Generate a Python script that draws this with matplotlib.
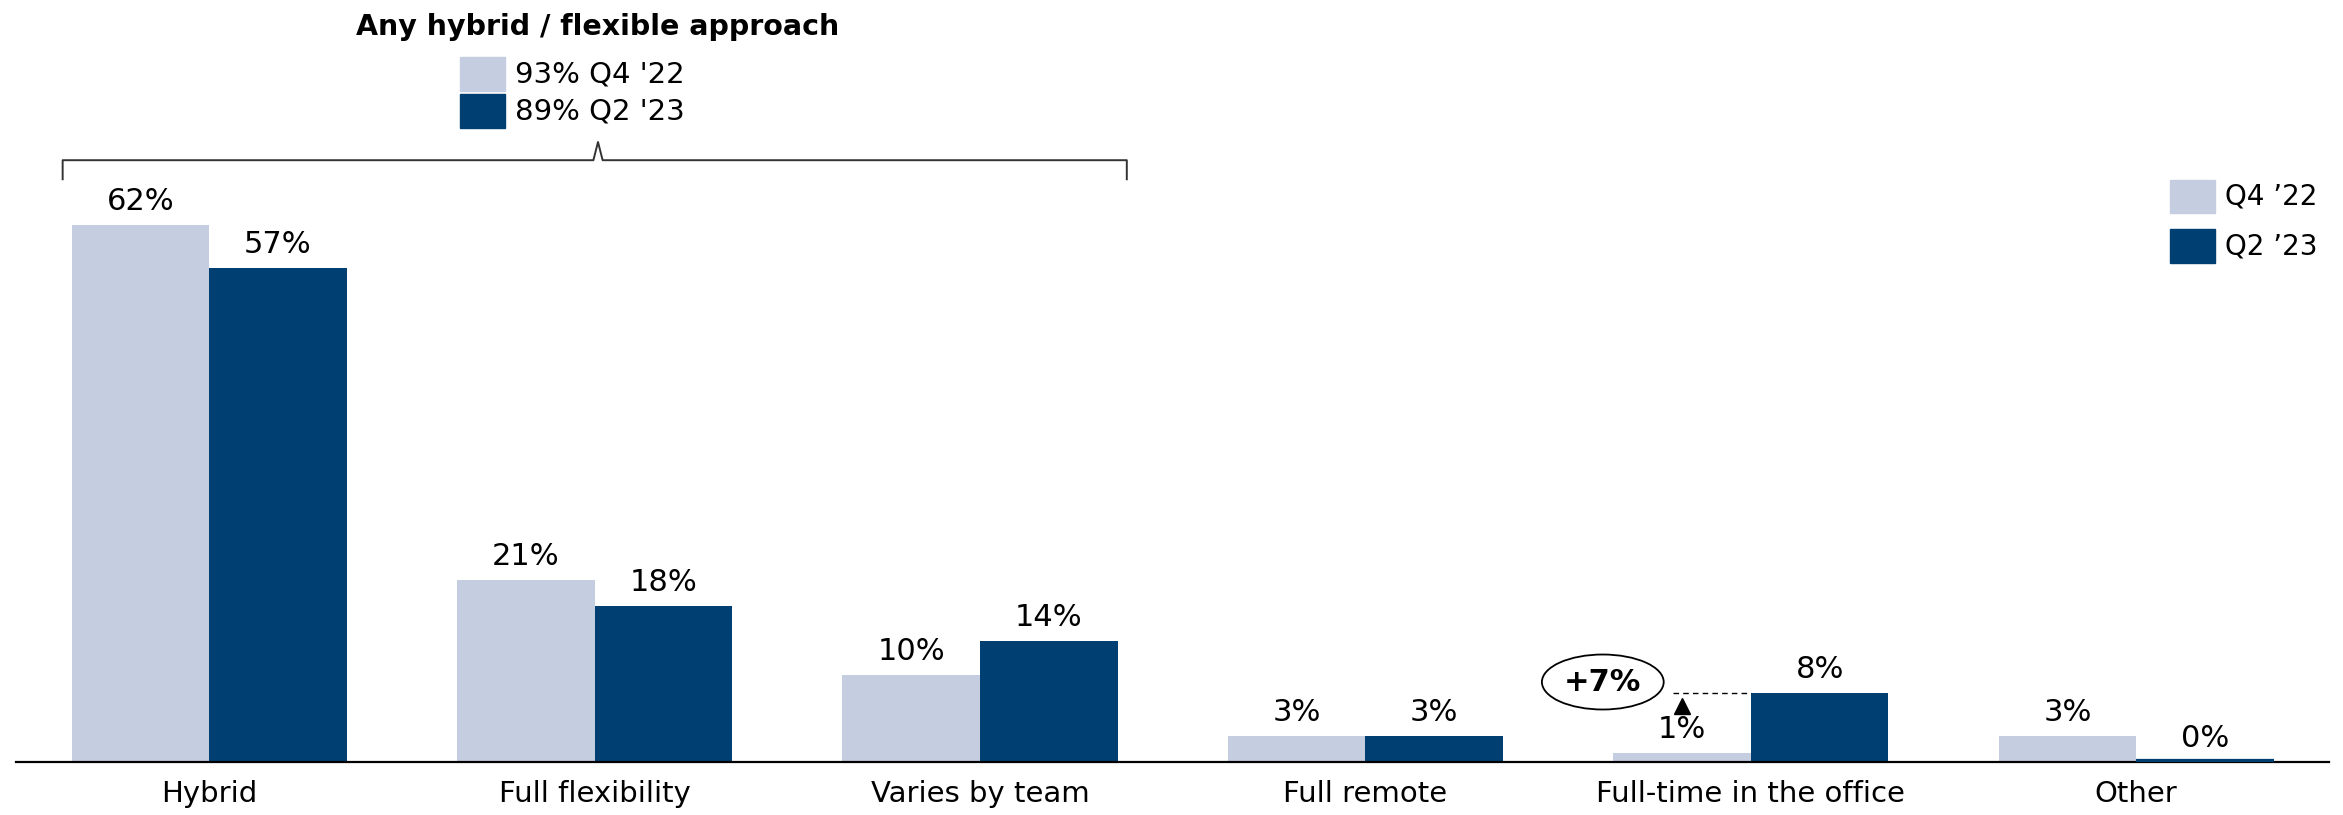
import matplotlib
matplotlib.use("Agg")
import matplotlib.pyplot as plt
from matplotlib.patches import Ellipse, Rectangle
import numpy as np

categories = ["Hybrid", "Full flexibility", "Varies by team", "Full remote",
              "Full-time in the office", "Other"]
q4_22 = [62, 21, 10, 3, 1, 3]
q2_23 = [57, 18, 14, 3, 8, 0]
series_names = ["Q4 \u201922", "Q2 \u201923"]
hybrid_totals = ["93% Q4 '22", "89% Q2 '23"]
hybrid_title = "Any hybrid / flexible approach"
change_label = "+7%"

LIGHT = "#C4CEE0"
DARK = "#003F71"

plt.rcParams["font.family"] = ["DejaVu Sans"]

fig = plt.figure(figsize=(23.43, 8.15), dpi=100)
ax = fig.add_axes([0.007, 0.065, 0.987, 0.935])

x = np.arange(len(categories))
w = 0.357
for xs, vals, col in ((x - w / 2, q4_22, LIGHT), (x + w / 2, q2_23, DARK)):
    ax.bar(xs, vals, w, color=col)
    for xi, v in zip(xs, vals):
        if v == 0:
            # zero bar still shows as a thin strip on the axis
            ax.plot([xi - w / 2, xi + w / 2], [0, 0], color=col, lw=4.5,
                    solid_capstyle="butt", zorder=3)
        ax.annotate(f"{v}%", (xi, v), xytext=(0, 17), textcoords="offset points",
                    ha="center", va="center", fontsize=22)

ax.set_xlim(-0.5, 5.5)
ax.set_ylim(0, 88)
ax.set_xticks(x)
ax.set_xticklabels(categories, fontsize=21)
ax.tick_params(axis="x", length=0, pad=13)
ax.set_yticks([])
for s in ("top", "right", "left"):
    ax.spines[s].set_visible(False)
ax.spines["bottom"].set_linewidth(1.6)

# bracket over the hybrid / flexible groups
bx0, bx1, bmid = -0.38, 2.381, 1.009
by, bdrop, btip = 69.5, 67.3, 71.6
ax.plot([bx0, bx0, bmid - 0.012, bmid, bmid + 0.012, bx1, bx1],
        [bdrop, by, by, btip, by, by, bdrop], color="#333333", lw=1.4, clip_on=False)

ax.text(bmid, 84.9, hybrid_title, ha="center", va="center", fontsize=20.5,
        fontweight="bold")
for (y0, y1), col, lab in zip(((77.5, 81.4), (73.2, 77.1)), (LIGHT, DARK), hybrid_totals):
    ax.add_patch(Rectangle((0.651, y0), 0.117, y1 - y0, color=col, clip_on=False))
    ax.text(0.794, (y0 + y1) / 2, lab, ha="left", va="center", fontsize=21)

# legend on the right
for (y0, y1), col, lab in zip(((63.4, 67.2), (57.6, 61.5)), (LIGHT, DARK), series_names):
    ax.add_patch(Rectangle((5.087, y0), 0.117, y1 - y0, color=col, clip_on=False))
    ax.text(5.230, (y0 + y1) / 2, lab, ha="left", va="center", fontsize=20)

# change callout on full-time in the office
xa = x[4] - w / 2
ax.plot([xa - 0.023, x[4]], [q2_23[4], q2_23[4]], color="black", lw=1, ls=(0, (4, 3)))
ax.plot([xa], [6.5], marker="^", color="black", markersize=12)
ax.add_patch(Ellipse((3.616, 9.24), 0.316, 6.35, fill=False, edgecolor="black", lw=1.3))
ax.text(3.616, 9.24, change_label, ha="center", va="center", fontsize=22,
        fontweight="bold")

fig.savefig("out.png", dpi=100)
